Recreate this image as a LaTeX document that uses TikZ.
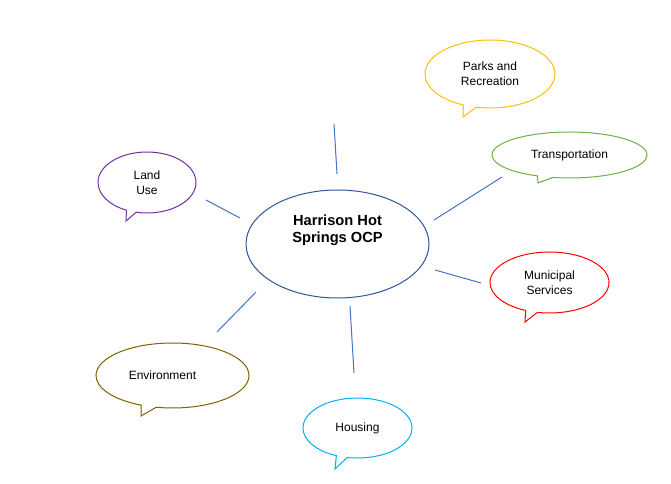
\documentclass[tikz,border=0pt]{standalone}
\usepackage{fontspec}
\setmainfont{Liberation Sans}
\usetikzlibrary{shapes.geometric,shapes.callouts}
\definecolor{hubblue}{RGB}{47,85,151}
\definecolor{linkblue}{RGB}{68,114,196}
\definecolor{parksgold}{RGB}{255,192,0}
\definecolor{transgreen}{RGB}{112,173,71}
\definecolor{landpurple}{RGB}{112,48,160}
\definecolor{munired}{RGB}{255,0,0}
\definecolor{envbrown}{RGB}{128,96,0}
\definecolor{housecyan}{RGB}{0,176,240}
\begin{document}
\begin{tikzpicture}[x=0.75pt,y=-0.75pt,
    hub/.style={ellipse,draw=hubblue,line width=0.75pt,inner sep=0pt,minimum width=137.25pt,minimum height=81pt},
    bubble/.style={ellipse callout,draw,line width=0.75pt,inner sep=0pt,align=center,callout pointer arc=12,font=\fontsize{9pt}{11.5pt}\selectfont},
    link/.style={draw=linkblue,line width=0.75pt}]
        \useasboundingbox (0,0) rectangle (671,484);
        % centre
        \node [hub] (hub) at (337.5,244) {};
        \node [align=center,font=\fontsize{11pt}{13pt}\selectfont\bfseries] (hubtext) at (337.5,230) {Harrison Hot\\Springs OCP};
        % callouts
        \node [bubble,draw=parksgold,minimum width=97.5pt,minimum height=51pt,callout absolute pointer={(463,117)}] (parks) at (490,74) {Parks and\\Recreation};
        \node [bubble,draw=transgreen,minimum width=116.25pt,minimum height=34.5pt,callout absolute pointer={(538,183)}] (trans) at (569.5,155) {\raisebox{2pt}{Transportation}};
        \node [bubble,draw=landpurple,minimum width=73.5pt,minimum height=45.75pt,callout absolute pointer={(126,221)}] (land) at (147,182.5) {Land\\Use};
        \node [bubble,draw=munired,minimum width=89.25pt,minimum height=45.75pt,callout absolute pointer={(525,322)}] (muni) at (549.5,282.5) {Municipal\\Services};
        \node [bubble,draw=envbrown,minimum width=114.75pt,minimum height=48.75pt,callout absolute pointer={(141,416)}] (env) at (172.5,375.5) {Environment\hspace{15pt}};
        \node [bubble,draw=housecyan,minimum width=81.75pt,minimum height=45pt,callout absolute pointer={(335,469)}] (housing) at (357.5,428) {Housing};
        % line ends
        \coordinate (topa) at (334,124);\coordinate (topb) at (337,174);
        \coordinate (landa) at (206,200);\coordinate (landb) at (240,218);
        \coordinate (transa) at (434,220);\coordinate (transb) at (502,177);
        \coordinate (munia) at (435,270);\coordinate (munib) at (481,283);
        \coordinate (enva) at (256,292);\coordinate (envb) at (217,332);
        \coordinate (housea) at (350,306);\coordinate (houseb) at (354,373);
        % lines
        \draw [link] (topa) -- (topb);
        \draw [link] (landa) -- (landb);
        \draw [link] (transa) -- (transb);
        \draw [link] (munia) -- (munib);
        \draw [link] (enva) -- (envb);
        \draw [link] (housea) -- (houseb);
\end{tikzpicture}
\end{document}
